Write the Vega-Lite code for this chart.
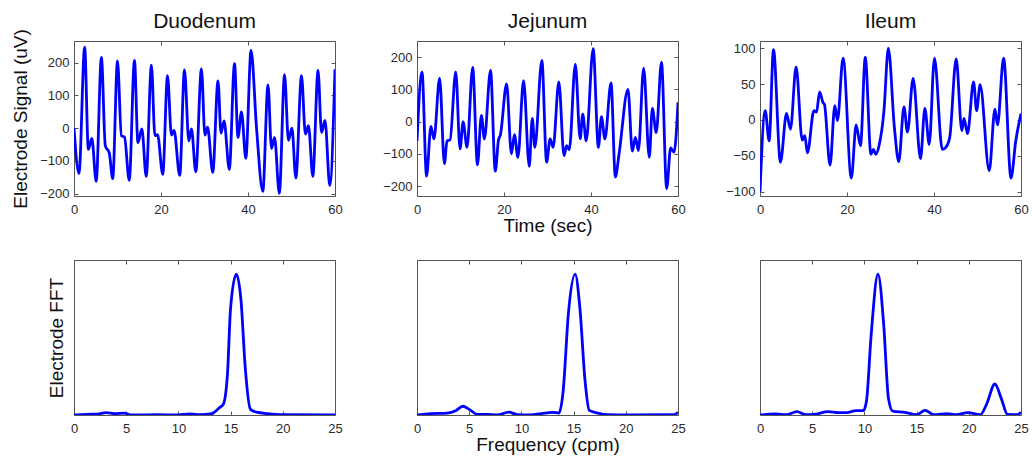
{
  "$schema": "https://vega.github.io/schema/vega-lite/v6.json",
  "padding": {"left": 11, "top": 10, "right": 5, "bottom": 2},
  "config": {
    "font": "Liberation Sans",
    "view": {"stroke": "#555555", "strokeWidth": 1},
    "axis": {"grid": false, "domain": false, "tickSize": -4, "tickColor": "#555555", "labelFontSize": 13, "labelColor": "#2a2a2a", "labelFlush": false, "labelOverlap": false, "titleFontSize": 19, "titleFontWeight": "normal", "titleColor": "#111111", "titlePadding": 9},
    "axisX": {"labelPadding": 11},
    "axisY": {"labelPadding": 9},
    "title": {"fontSize": 21, "fontWeight": "normal", "color": "#111111", "offset": 9, "anchor": "middle"}
  },
  "datasets": {
    "duo": [
      {"t":0,"v":0},{"t":1.15,"v":-138},{"t":2.45,"v":247},{"t":3.3,"v":-65},{"t":4.1,"v":-31},{"t":5.1,"v":-162},{"t":6.3,"v":216},{"t":7.2,"v":-54},{"t":8.1,"v":-75},{"t":8.9,"v":-154},{"t":10.0,"v":205},{"t":10.9,"v":-23},{"t":11.6,"v":-27},{"t":12.7,"v":-159},{"t":13.9,"v":207},{"t":14.7,"v":-44},{"t":15.6,"v":-2},{"t":16.6,"v":-147},{"t":17.8,"v":192},{"t":18.6,"v":-23},{"t":19.2,"v":-20},{"t":20.4,"v":-141},{"t":21.5,"v":160},{"t":22.4,"v":-21},{"t":23.0,"v":-7},{"t":24.3,"v":-144},{"t":25.4,"v":178},{"t":26.4,"v":-39},{"t":27.0,"v":-2},{"t":28.0,"v":-133},{"t":29.3,"v":181},{"t":30.1,"v":-21},{"t":30.7,"v":3},{"t":31.9,"v":-135},{"t":33.1,"v":144},{"t":33.8,"v":-15},{"t":34.5,"v":22},{"t":35.7,"v":-126},{"t":36.9,"v":197},{"t":37.7,"v":-28},{"t":38.5,"v":50},{"t":39.5,"v":-92},{"t":40.7,"v":237},{"t":42.0,"v":-7},{"t":43.4,"v":-193},{"t":44.6,"v":132},{"t":45.4,"v":-62},{"t":46.1,"v":-28},{"t":47.2,"v":-199},{"t":48.4,"v":163},{"t":49.3,"v":-37},{"t":50.1,"v":0},{"t":51.0,"v":-152},{"t":52.3,"v":160},{"t":53.2,"v":-18},{"t":53.9,"v":8},{"t":54.9,"v":-147},{"t":56.1,"v":176},{"t":56.9,"v":-13},{"t":57.7,"v":24},{"t":58.8,"v":-175},{"t":60,"v":180}
    ],
    "jej": [
      {"t":0,"v":-60},{"t":1.15,"v":153},{"t":2.2,"v":-169},{"t":3.2,"v":-15},{"t":3.9,"v":-54},{"t":5.2,"v":135},{"t":6.3,"v":-131},{"t":6.9,"v":-60},{"t":7.6,"v":-57},{"t":8.9,"v":154},{"t":9.9,"v":-85},{"t":10.6,"v":-1},{"t":11.5,"v":-80},{"t":12.8,"v":168},{"t":13.9,"v":-134},{"t":14.8,"v":19},{"t":15.5,"v":-54},{"t":16.9,"v":159},{"t":18.0,"v":-154},{"t":18.7,"v":-60},{"t":19.2,"v":-40},{"t":20.6,"v":117},{"t":21.7,"v":-100},{"t":22.4,"v":-41},{"t":23.2,"v":-111},{"t":24.5,"v":127},{"t":25.8,"v":-139},{"t":26.5,"v":10},{"t":27.1,"v":-80},{"t":28.7,"v":190},{"t":29.8,"v":-126},{"t":30.6,"v":-54},{"t":31.3,"v":-80},{"t":32.6,"v":123},{"t":33.8,"v":-106},{"t":34.4,"v":-75},{"t":35.0,"v":-88},{"t":36.4,"v":178},{"t":37.5,"v":-54},{"t":38.1,"v":23},{"t":38.9,"v":-60},{"t":40.5,"v":226},{"t":41.7,"v":-80},{"t":42.4,"v":15},{"t":43.2,"v":-54},{"t":44.6,"v":120},{"t":45.6,"v":-172},{"t":46.5,"v":-95},{"t":48.5,"v":100},{"t":49.5,"v":-92},{"t":50.2,"v":-49},{"t":50.9,"v":-90},{"t":52.1,"v":166},{"t":53.4,"v":-111},{"t":54.1,"v":41},{"t":55.0,"v":-34},{"t":56.2,"v":184},{"t":57.4,"v":-208},{"t":58.3,"v":-82},{"t":59.1,"v":-95},{"t":60,"v":60}
    ],
    "ile": [
      {"t":0,"v":-100},{"t":1.2,"v":13},{"t":2.1,"v":-29},{"t":3.1,"v":98},{"t":4.7,"v":-59},{"t":6.1,"v":9},{"t":7.0,"v":-13},{"t":8.3,"v":74},{"t":9.7,"v":-28},{"t":10.3,"v":-22},{"t":10.9,"v":-46},{"t":12.4,"v":13},{"t":13.0,"v":11},{"t":13.7,"v":39},{"t":14.5,"v":24},{"t":14.8,"v":22},{"t":16.1,"v":-63},{"t":17.2,"v":20},{"t":17.8,"v":-1},{"t":19.1,"v":86},{"t":21.0,"v":-81},{"t":22.1,"v":-7},{"t":23.1,"v":-36},{"t":24.2,"v":87},{"t":25.5,"v":-48},{"t":26.1,"v":-41},{"t":26.6,"v":-48},{"t":27.4,"v":-35},{"t":28.5,"v":13},{"t":29.5,"v":100},{"t":30.9,"v":-11},{"t":31.9,"v":-58},{"t":33.1,"v":18},{"t":33.9,"v":-17},{"t":35.2,"v":58},{"t":36.9,"v":-54},{"t":37.9,"v":16},{"t":38.9,"v":-34},{"t":40.1,"v":86},{"t":41.9,"v":-41},{"t":42.6,"v":-39},{"t":43.6,"v":-25},{"t":45.1,"v":85},{"t":46.4,"v":-15},{"t":46.9,"v":2},{"t":47.7,"v":-19},{"t":49.1,"v":53},{"t":49.8,"v":13},{"t":50.6,"v":49},{"t":52.7,"v":-71},{"t":54.0,"v":15},{"t":54.6,"v":-7},{"t":56.0,"v":86},{"t":57.7,"v":-81},{"t":58.8,"v":-29},{"t":60,"v":9}
    ],
    "duoF": [
      {"f":0,"a":0},{"f":1.2,"a":0.005},{"f":2.2,"a":0.006},{"f":3.1,"a":0.017},{"f":3.9,"a":0.01},{"f":4.8,"a":0.014},{"f":5.5,"a":0},{"f":8,"a":0.002},{"f":10,"a":0},{"f":11.1,"a":0.007},{"f":12.1,"a":0.002},{"f":13.2,"a":0.01},{"f":13.9,"a":0.05},{"f":14.3,"a":0.076},{"f":14.7,"a":0.29},{"f":15.0,"a":0.76},{"f":15.55,"a":1.0},{"f":16.0,"a":0.81},{"f":16.4,"a":0.34},{"f":16.9,"a":0.04},{"f":17.5,"a":0.02},{"f":18.5,"a":0.01},{"f":20,"a":0.002},{"f":25,"a":0}
    ],
    "jejF": [
      {"f":0,"a":0},{"f":1.3,"a":0.01},{"f":2.9,"a":0.014},{"f":3.7,"a":0.03},{"f":4.4,"a":0.062},{"f":5.0,"a":0.04},{"f":5.8,"a":0.005},{"f":6.7,"a":0.005},{"f":7.7,"a":0},{"f":8.8,"a":0.021},{"f":9.6,"a":0.002},{"f":10.5,"a":0},{"f":11.9,"a":0.01},{"f":13.0,"a":0.019},{"f":13.6,"a":0.014},{"f":14.0,"a":0.17},{"f":14.5,"a":0.72},{"f":15.15,"a":1.0},{"f":15.6,"a":0.76},{"f":16.1,"a":0.24},{"f":16.5,"a":0.033},{"f":17.3,"a":0.014},{"f":18.3,"a":0.002},{"f":20,"a":0},{"f":24.6,"a":0.002},{"f":25,"a":0.02}
    ],
    "ileF": [
      {"f":0,"a":0},{"f":1.5,"a":0.007},{"f":2.5,"a":0.002},{"f":3.55,"a":0.024},{"f":4.4,"a":0.002},{"f":5.4,"a":0.007},{"f":6.5,"a":0.024},{"f":7.5,"a":0.017},{"f":8.3,"a":0.017},{"f":9.2,"a":0.031},{"f":9.9,"a":0.031},{"f":10.2,"a":0.1},{"f":10.65,"a":0.57},{"f":11.3,"a":1.0},{"f":11.85,"a":0.64},{"f":12.3,"a":0.12},{"f":12.7,"a":0.028},{"f":13.9,"a":0.019},{"f":15.0,"a":0.002},{"f":15.8,"a":0.033},{"f":16.7,"a":0.002},{"f":17.9,"a":0.01},{"f":18.8,"a":0.002},{"f":19.9,"a":0.017},{"f":21.1,"a":0.002},{"f":21.7,"a":0.076},{"f":22.5,"a":0.22},{"f":23.1,"a":0.12},{"f":23.7,"a":0.005},{"f":24.6,"a":0.002},{"f":25,"a":0.02}
    ]
  },
  "columns": 3,
  "spacing": {"row": 64, "column": 82},
  "bounds": "flush",
  "concat": [
    {
      "title": {"text": "Duodenum", "offset": -3},
      "width": 261, "height": 155,
      "data": {"name": "duo"},
      "layer": [
        {"mark": {"type": "line", "color": "#0000ff", "strokeWidth": 2.8, "interpolate": "monotone", "clip": true},
         "encoding": {
           "x": {"field": "t", "type": "quantitative", "scale": {"domain": [0, 60], "nice": false, "zero": false}, "axis": {"orient": "bottom", "values": [0, 20, 40, 60], "title": null}},
           "y": {"field": "v", "type": "quantitative", "scale": {"domain": [-207, 266], "nice": false, "zero": false}, "axis": {"orient": "left", "values": [-200, -100, 0, 100, 200], "title": "Electrode Signal (uV)"}}
         }},
        {"mark": {"type": "line", "opacity": 0},
         "encoding": {
           "x": {"field": "t", "type": "quantitative", "axis": {"orient": "top", "values": [0, 20, 40, 60], "labels": false, "title": null}},
           "y": {"field": "v", "type": "quantitative", "axis": {"orient": "right", "values": [-200, -100, 0, 100, 200], "labels": false, "title": null}}
         }}
      ],
      "resolve": {"axis": {"x": "independent", "y": "independent"}}
    },
    {
      "title": "Jejunum", "width": 261, "height": 155,
      "data": {"name": "jej"},
      "layer": [
        {"mark": {"type": "line", "color": "#0000ff", "strokeWidth": 2.8, "interpolate": "monotone", "clip": true},
         "encoding": {
           "x": {"field": "t", "type": "quantitative", "scale": {"domain": [0, 60], "nice": false, "zero": false}, "axis": {"orient": "bottom", "values": [0, 20, 40, 60], "title": "Time (sec)", "titlePadding": 0}},
           "y": {"field": "v", "type": "quantitative", "scale": {"domain": [-231, 250], "nice": false, "zero": false}, "axis": {"orient": "left", "values": [-200, -100, 0, 100, 200], "title": null}}
         }},
        {"mark": {"type": "line", "opacity": 0},
         "encoding": {
           "x": {"field": "t", "type": "quantitative", "axis": {"orient": "top", "values": [0, 20, 40, 60], "labels": false, "title": null}},
           "y": {"field": "v", "type": "quantitative", "axis": {"orient": "right", "values": [-200, -100, 0, 100, 200], "labels": false, "title": null}}
         }}
      ],
      "resolve": {"axis": {"x": "independent", "y": "independent"}}
    },
    {
      "title": "Ileum", "width": 261, "height": 155,
      "data": {"name": "ile"},
      "layer": [
        {"mark": {"type": "line", "color": "#0000ff", "strokeWidth": 2.8, "interpolate": "monotone", "clip": true},
         "encoding": {
           "x": {"field": "t", "type": "quantitative", "scale": {"domain": [0, 60], "nice": false, "zero": false}, "axis": {"orient": "bottom", "values": [0, 20, 40, 60], "title": null}},
           "y": {"field": "v", "type": "quantitative", "scale": {"domain": [-106, 110], "nice": false, "zero": false}, "axis": {"orient": "left", "values": [-100, -50, 0, 50, 100], "title": null}}
         }},
        {"mark": {"type": "line", "opacity": 0},
         "encoding": {
           "x": {"field": "t", "type": "quantitative", "axis": {"orient": "top", "values": [0, 20, 40, 60], "labels": false, "title": null}},
           "y": {"field": "v", "type": "quantitative", "axis": {"orient": "right", "values": [-100, -50, 0, 50, 100], "labels": false, "title": null}}
         }}
      ],
      "resolve": {"axis": {"x": "independent", "y": "independent"}}
    },
    {
      "width": 261, "height": 155,
      "data": {"name": "duoF"},
      "layer": [
        {"mark": {"type": "line", "color": "#0000ff", "strokeWidth": 2.8, "interpolate": "monotone", "clip": true},
         "encoding": {
           "x": {"field": "f", "type": "quantitative", "scale": {"domain": [0, 25], "nice": false, "zero": false}, "axis": {"orient": "bottom", "values": [0, 5, 10, 15, 20, 25], "title": null}},
           "y": {"field": "a", "type": "quantitative", "scale": {"domain": [0, 1.1], "nice": false}, "axis": {"orient": "left", "labels": false, "ticks": false, "title": "Electrode FFT", "titlePadding": 8}}
         }},
        {"mark": {"type": "line", "opacity": 0},
         "encoding": {
           "x": {"field": "f", "type": "quantitative", "axis": {"orient": "top", "values": [0, 5, 10, 15, 20, 25], "labels": false, "title": null}},
           "y": {"field": "a", "type": "quantitative", "axis": null}
         }}
      ],
      "resolve": {"axis": {"x": "independent", "y": "independent"}}
    },
    {
      "width": 261, "height": 155,
      "data": {"name": "jejF"},
      "layer": [
        {"mark": {"type": "line", "color": "#0000ff", "strokeWidth": 2.8, "interpolate": "monotone", "clip": true},
         "encoding": {
           "x": {"field": "f", "type": "quantitative", "scale": {"domain": [0, 25], "nice": false, "zero": false}, "axis": {"orient": "bottom", "values": [0, 5, 10, 15, 20, 25], "title": "Frequency (cpm)", "titlePadding": 0}},
           "y": {"field": "a", "type": "quantitative", "scale": {"domain": [0, 1.1], "nice": false}, "axis": null}
         }},
        {"mark": {"type": "line", "opacity": 0},
         "encoding": {
           "x": {"field": "f", "type": "quantitative", "axis": {"orient": "top", "values": [0, 5, 10, 15, 20, 25], "labels": false, "title": null}},
           "y": {"field": "a", "type": "quantitative", "axis": null}
         }}
      ],
      "resolve": {"axis": {"x": "independent", "y": "independent"}}
    },
    {
      "width": 261, "height": 155,
      "data": {"name": "ileF"},
      "layer": [
        {"mark": {"type": "line", "color": "#0000ff", "strokeWidth": 2.8, "interpolate": "monotone", "clip": true},
         "encoding": {
           "x": {"field": "f", "type": "quantitative", "scale": {"domain": [0, 25], "nice": false, "zero": false}, "axis": {"orient": "bottom", "values": [0, 5, 10, 15, 20, 25], "title": null}},
           "y": {"field": "a", "type": "quantitative", "scale": {"domain": [0, 1.1], "nice": false}, "axis": null}
         }},
        {"mark": {"type": "line", "opacity": 0},
         "encoding": {
           "x": {"field": "f", "type": "quantitative", "axis": {"orient": "top", "values": [0, 5, 10, 15, 20, 25], "labels": false, "title": null}},
           "y": {"field": "a", "type": "quantitative", "axis": null}
         }}
      ],
      "resolve": {"axis": {"x": "independent", "y": "independent"}}
    }
  ]
}
